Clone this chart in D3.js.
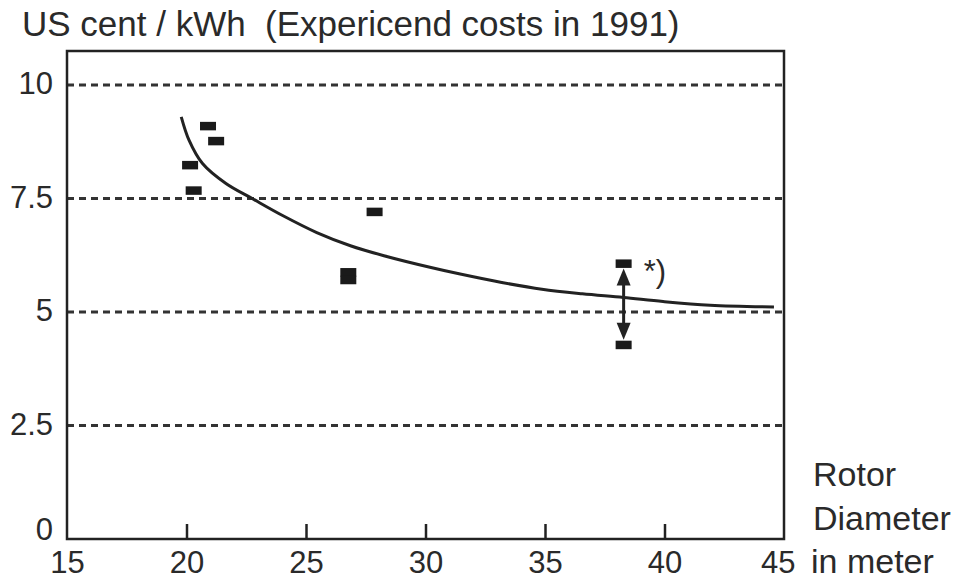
<!DOCTYPE html>
<html lang="en">
<head>
    <meta charset="UTF-8">
    <title>Rotor diameter vs cost</title>
    <script src="https://d3js.org/d3.v7.min.js"></script>
    <style>
        body { margin: 0; background: #fff; }
        text { font-family: "Liberation Sans", Arial, sans-serif; fill: #2a2a2a; }
    </style>
</head>
<body>
    <div id="chart"></div>
    <script>
        // measured plants: rotor diameter (m) and cost (US cent / kWh)
        var diameters = [20.9, 21.24, 20.15, 20.3, 27.87, 26.77, 26.77, 38.29, 38.29];
        var costs     = [9.1, 8.77, 8.24, 7.68, 7.21, 5.88, 5.71, 6.07, 4.28];

        // trend curve
        var curveDiam = [19.78, 20.11, 20.67, 21.65, 22.78, 24.04, 25.45, 26.86, 28.26, 30.23, 31.5, 33.19, 34.87, 36.56, 38.28, 39.94, 41.91, 44.58];
        var curveCost = [9.30, 8.78, 8.27, 7.83, 7.49, 7.12, 6.75, 6.46, 6.24, 5.98, 5.83, 5.65, 5.50, 5.40, 5.32, 5.23, 5.15, 5.11];

        // range bar (*) between the two 38 m values
        var rangeDiam = 38.29;
        var rangeHigh = 6.07;
        var rangeLow = 4.28;

        var xTicks = [15, 20, 25, 30, 35, 40, 45];
        var yTicks = [0, 2.5, 5, 7.5, 10];
        var gridValues = [2.5, 5, 7.5, 10];

        var margin = {top: 51, right: 190, bottom: 43, left: 67};
        var width = 974 - margin.left - margin.right;
        var height = 582 - margin.top - margin.bottom;

        var svg = d3.select("#chart").append("svg")
            .attr("width", 974)
            .attr("height", 582);

        var g = svg.append("g")
            .attr("transform", "translate(" + margin.left + "," + margin.top + ")");

        var x = d3.scaleLinear().domain([15, 45]).range([0, width]);
        var y = d3.scaleLinear().domain([0, 10]).range([height, 34]);

        // dashed gridlines
        g.selectAll(".grid")
            .data(gridValues)
            .enter().append("line")
            .attr("x1", 0)
            .attr("x2", width)
            .attr("y1", function(d) { return y(d); })
            .attr("y2", function(d) { return y(d); })
            .attr("stroke", "#333")
            .attr("stroke-width", 3)
            .attr("stroke-dasharray", "7,5");

        // frame
        g.append("rect")
            .attr("width", width)
            .attr("height", height)
            .attr("fill", "none")
            .attr("stroke", "#222")
            .attr("stroke-width", 2.5);

        // x axis with inward ticks
        var xAxis = g.append("g")
            .attr("transform", "translate(0," + height + ")")
            .call(d3.axisBottom(x).tickValues(xTicks).tickSizeInner(-15).tickSizeOuter(0).tickPadding(12));
        xAxis.select(".domain").remove();
        xAxis.selectAll("line").attr("stroke", "#222").attr("stroke-width", 2.5)
            .filter(function(d) { return d === 15 || d === 45; }).remove();
        xAxis.selectAll("text").style("font-size", "31px").attr("fill", "#2a2a2a")
            .attr("dx", function(d) { return d === 45 ? "-0.2em" : 0; });

        // y axis labels only
        var yAxis = g.append("g")
            .call(d3.axisLeft(y).tickValues(yTicks).tickSize(0).tickPadding(14).tickFormat(function(d) { return d; }));
        yAxis.select(".domain").remove();
        yAxis.selectAll("text").style("font-size", "31px").attr("fill", "#2a2a2a")
            .attr("dy", function(d) { return d === 0 ? "0.02em" : "0.28em"; });

        // trend curve
        var curvePts = curveDiam.map(function(d, i) { return [d, curveCost[i]]; });
        var line = d3.line()
            .x(function(d) { return x(d[0]); })
            .y(function(d) { return y(d[1]); })
            .curve(d3.curveCatmullRom);
        g.append("path")
            .datum(curvePts)
            .attr("d", line)
            .attr("fill", "none")
            .attr("stroke", "#222")
            .attr("stroke-width", 3);

        // measured points as short bars
        g.selectAll(".pt")
            .data(diameters.map(function(d, i) { return {d: d, c: costs[i]}; }))
            .enter().append("rect")
            .attr("class", "pt")
            .attr("x", function(p) { return x(p.d) - 8; })
            .attr("y", function(p) { return y(p.c) - 4; })
            .attr("width", 16)
            .attr("height", 8.5)
            .attr("fill", "#1a1a1a");

        // double arrow between the range values
        var ax = x(rangeDiam);
        var yTop = y(rangeHigh) + 5;
        var yBot = y(rangeLow) - 5;
        g.append("line")
            .attr("x1", ax).attr("x2", ax)
            .attr("y1", yTop + 10).attr("y2", yBot - 10)
            .attr("stroke", "#222")
            .attr("stroke-width", 3);
        g.append("path")
            .attr("d", "M" + ax + "," + yTop + "L" + (ax - 7) + "," + (yTop + 17) + "L" + (ax + 7) + "," + (yTop + 17) + "Z")
            .attr("fill", "#222");
        g.append("path")
            .attr("d", "M" + ax + "," + yBot + "L" + (ax - 7) + "," + (yBot - 17) + "L" + (ax + 7) + "," + (yBot - 17) + "Z")
            .attr("fill", "#222");
        g.append("text")
            .attr("x", ax + 20)
            .attr("y", y(rangeHigh) + 19)
            .style("font-size", "31px")
            .text("*)");

        // title
        svg.append("text")
            .attr("x", 22)
            .attr("y", 36)
            .style("font-size", "35px")
            .style("white-space", "pre")
            .text("US cent / kWh  (Expericend costs in 1991)");

        // x axis label on the right
        var xLabel = svg.append("text")
            .style("font-size", "34px");
        xLabel.append("tspan").attr("x", 813).attr("y", 486).text("Rotor");
        xLabel.append("tspan").attr("x", 813).attr("y", 530).text("Diameter");
        xLabel.append("tspan").attr("x", 811).attr("y", 573).text("in meter");
    </script>
</body>
</html>
